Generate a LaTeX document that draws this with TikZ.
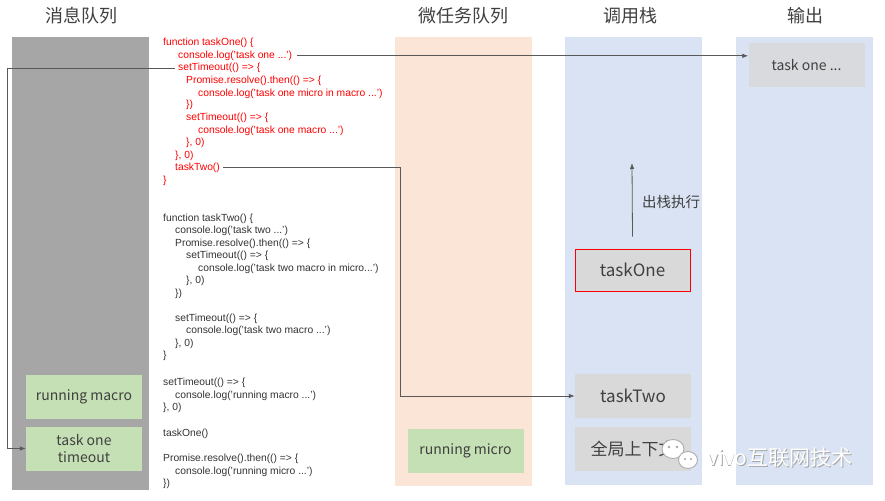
\documentclass[tikz,border=0pt]{standalone}
\usepackage{fontspec}
\setmainfont{Liberation Sans}
\newfontfamily\cjk{Noto Sans CJK SC}
\usetikzlibrary{arrows.meta,calc}
\definecolor{mqgray}{HTML}{A6A6A6}
\definecolor{micro}{HTML}{FBE5D6}
\definecolor{stackblue}{HTML}{DAE3F3}
\definecolor{boxgreen}{HTML}{C5E0B4}
\definecolor{boxgray}{HTML}{D9D9D9}
\definecolor{codered}{HTML}{FF0000}
\definecolor{codegray}{HTML}{333333}
\definecolor{titlegray}{HTML}{404040}
\definecolor{linegray}{HTML}{595959}
\tikzset{
  code/.style={anchor=base west, inner sep=0pt, font=\fontsize{10.3}{12}\selectfont, text=codegray},
  rcode/.style={code, text=codered},
  coltitle/.style={font=\cjk\fontsize{18}{21}\selectfont, text=titlegray},
  qbox/.style={minimum width=116pt, minimum height=44pt, inner sep=0pt, align=center, text=titlegray},
  greenbox/.style={qbox, fill=boxgreen, font=\cjk\fontsize{14}{17}\selectfont},
  graybox/.style={qbox, fill=boxgray, font=\cjk\fontsize{17}{20}\selectfont},
  arr/.style={draw=linegray, line width=0.8pt, -{Latex[length=6pt,width=4.5pt]}},
  wmark/.style={font=\cjk\fontsize{21}{24}\selectfont, inner sep=0pt},
}
\begin{document}
\begin{tikzpicture}[x=1pt,y=-1pt]
\useasboundingbox (0,0) rectangle (885,500);
\fill[white] (0,0) rectangle (885,500);
% columns
\fill[mqgray] (12,37) rectangle (149,490);
\fill[micro] (395,37) rectangle (532,486);
\fill[stackblue] (565,37) rectangle (702,485);
\fill[stackblue] (736,37) rectangle (873,485);
% titles
\node[coltitle] (tmq) at (81,16) {消息队列};
\node[coltitle] (tmicro) at (463,16) {微任务队列};
\node[coltitle] (tstack) at (630,16) {调用栈};
\node[coltitle] (tout) at (805,16) {输出};
% code block 1 (red)
\node[rcode] (a1) at (163,46) {function taskOne() \{};
\node[rcode] (t1log) at (178,58.5) {console.log('task one ...')};
\node[rcode] (st1) at (178,71) {setTimeout(() => \{};
\node[rcode] (a4) at (186,83.5) {Promise.resolve().then(() => \{};
\node[rcode] (a5) at (198,96) {console.log('task one micro in macro ...')};
\node[rcode] (a6) at (186,108) {\})};
\node[rcode] (a7) at (186,120.5) {setTimeout(() => \{};
\node[rcode] (a8) at (198,133) {console.log('task one macro ...')};
\node[rcode] (a9) at (186,145.5) {\}, 0)};
\node[rcode] (a10) at (175,158) {\}, 0)};
\node[rcode] (tt) at (175,170.5) {taskTwo()};
\node[rcode] (a12) at (163,183) {\}};
% code block 2
\node[code] (b1) at (163,221) {function taskTwo() \{};
\node[code] (b2) at (175,233.5) {console.log('task two ...')};
\node[code] (b3) at (175,246) {Promise.resolve().then(() => \{};
\node[code] (b4) at (186,258.5) {setTimeout(() => \{};
\node[code] (b5) at (198,271) {console.log('task two macro in micro...')};
\node[code] (b6) at (186,283.5) {\}, 0)};
\node[code] (b7) at (175,296) {\})};
\node[code] (b8) at (175,321) {setTimeout(() => \{};
\node[code] (b9) at (186,333.5) {console.log('task two macro ...')};
\node[code] (b10) at (175,346) {\}, 0)};
\node[code] (b11) at (163,358.5) {\}};
% code block 3
\node[code] (c1) at (163,385.5) {setTimeout(() => \{};
\node[code] (c2) at (175,398) {console.log('running macro ...')};
\node[code] (c3) at (163,410.5) {\}, 0)};
\node[code] (c4) at (163,436.5) {taskOne()};
\node[code] (c5) at (163,461.5) {Promise.resolve().then(() => \{};
\node[code] (c6) at (175,474) {console.log('running micro ...')};
\node[code] (c7) at (163,486.5) {\})};
% message queue boxes
\node[greenbox] (rmac) at (84,396.5) {running macro};
\node[greenbox, font=\cjk\fontsize{14}{17}\selectfont] (tot) at (84,448.5) {task one\\timeout};
% microtask
\node[greenbox] (rmic) at (465.5,451) {running micro};
% call stack
\node[graybox, draw=codered, line width=0.8pt, minimum width=115pt, minimum height=42pt] (t1box) at (632.5,270) {taskOne};
\node[graybox] (t2box) at (633,396) {taskTwo};
\node[graybox] (gctx) at (633,448.5) {全局上下文};
% output
\node[qbox, fill=boxgray!85!stackblue, font=\cjk\fontsize{14}{16}\selectfont] (out1) at (806.5,65.5) {task one ...};
% stack label
\node[font=\cjk\fontsize{14.5}{17}\selectfont, text=titlegray] (popl) at (671,202) {出栈执行};
% connectors
\coordinate (lq) at (7,0);
\coordinate (rq) at (400,0);
\coordinate (uptip) at (632,163);
\draw[arr] ([xshift=5pt]t1log.east) -- (t1log.east -| out1.west);
\draw[arr] ([xshift=-3pt]st1.west) -- (st1.west -| lq) |- (tot.west);
\draw[arr] ([xshift=3pt]tt.east) -- (tt.east -| rq) |- (t2box.west);
\draw[arr] ([yshift=12pt]t1box.north) -- (uptip);
% watermark icon
\draw[gray!65, fill=white, line width=0.9pt] (673,449) ellipse (11 and 9.5);
\fill[gray!70] (669,447) circle (1.3) (677,447) circle (1.3);
\draw[gray!65, fill=white, line width=0.9pt] (688,460) ellipse (9.5 and 8.5);
\fill[gray!70] (685,459) circle (1.1) (691,459) circle (1.1);
% watermark text
\node[wmark, text=gray!70] (wm1) at (780.8,458.8) {vivo互联网技术};
\node[wmark, text=white] (wm0) at (780,458) {vivo互联网技术};
\end{tikzpicture}
\end{document}
